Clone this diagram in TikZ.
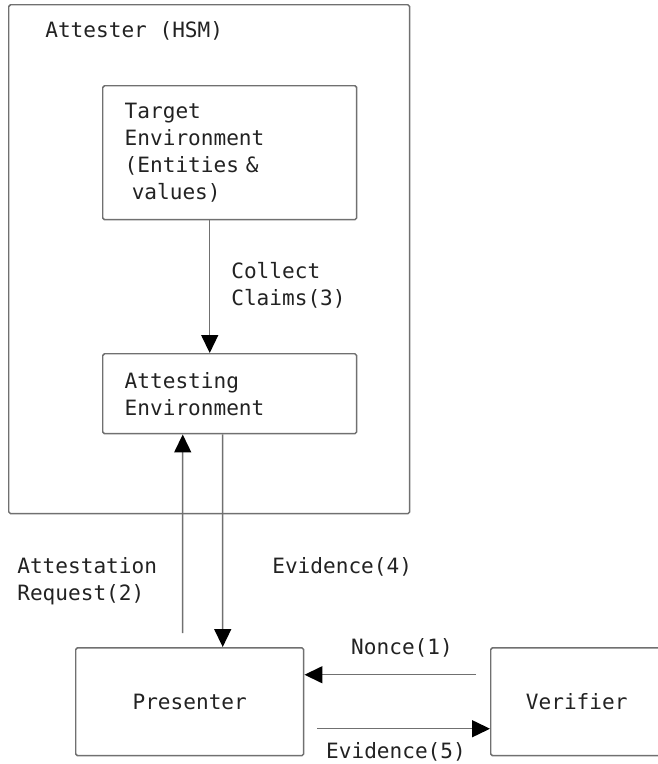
\documentclass[tikz,border=0pt]{standalone}
\usepackage{fontspec}
\usepackage{tikz}
\usetikzlibrary{positioning,arrows.meta,calc}
\usepackage{xcolor}
\newfontfamily\diagfont{DejaVu Sans Mono}
\definecolor{edge}{HTML}{707070}
\definecolor{ink}{HTML}{222222}

\begin{document}
\begin{tikzpicture}[
    x=0.02cm, y=-0.02cm,
    font=\diagfont\fontsize{12}{15.4}\selectfont,
    box/.style={draw=edge, line width=0.85pt, rounded corners=1pt, text=ink, inner sep=0pt},
    envbox/.style={box, anchor=north west, minimum width=5.08cm, align=left, text width=4.2cm, inner xsep=0.44cm},
    party/.style={box, anchor=north west, minimum height=2.16cm, align=center},
    flow/.style={-{Triangle[length=0.36cm, width=0.34cm, color=black]}, draw=edge, line width=0.85pt},
    tag/.style={text=ink, align=left, inner sep=0pt}
]
\useasboundingbox (0,0) rectangle (658,764);

\node[box, anchor=north west, minimum width=8.02cm, minimum height=10.18cm] (attester) at (8,4) {};
\node[tag, anchor=base west] (hsm) at (45,37) {Attester (HSM)};

\node[envbox, minimum height=2.68cm] (target) at (102,85) {Target\\Environment\\(Entities \&\\~values)};
\node[envbox, minimum height=1.6cm] (attesting) at (102,353) {Attesting\\Environment};

\node[party, minimum width=4.56cm] (presenter) at (75,647) {Presenter};
\node[party, minimum width=3.44cm] (verifier) at (490,647) {Verifier};

\node[tag, anchor=west] (collect) at (231,285) {Collect\\Claims(3)};
\node[tag, anchor=west] (request) at (17,581) {Attestation\\Request(2)};
\node[tag, anchor=west] (evid4) at (272,567) {Evidence(4)};
\node[tag] (nonce) at (402,648) {Nonce(1)};
\node[tag] (evid5) at (396,752) {Evidence(5)};

\draw[flow] ([xshift=-0.4cm]target.south) -- ([xshift=-0.4cm]attesting.north);
\draw[flow] ([shift={(-0.14cm,0.28cm)}]presenter.north) -- ([xshift=-0.94cm]attesting.south);
\draw[flow] ([xshift=-0.14cm]attesting.south) -- ([xshift=0.66cm]presenter.north);
\draw[flow] ([shift={(-0.28cm,0.54cm)}]verifier.west) -- ([yshift=0.54cm]presenter.east);
\draw[flow] ([shift={(0.26cm,-0.54cm)}]presenter.east) -- ([yshift=-0.54cm]verifier.west);

\end{tikzpicture}
\end{document}
